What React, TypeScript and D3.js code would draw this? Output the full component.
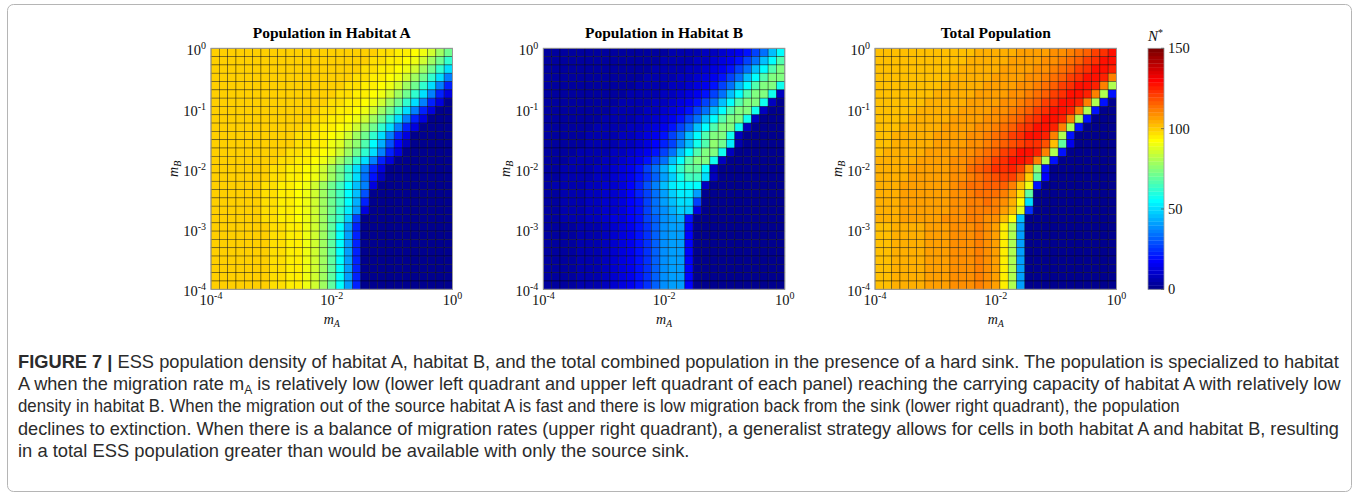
import React, { useLayoutEffect, useRef, useState } from "react";
import * as d3 from "d3";

// pcolor vertices: 30 log-spaced points in each direction -> 29 x 29 faceted cells
const gridPoints: number[] = d3.range(30).map((i) => Math.pow(10, -4 + (4 * i) / 29));

const panelTitles = ["Population in Habitat A", "Population in Habitat B", "Total Population"];
const xTickExponents = [-4, -2, 0];
const yTickExponents = [0, -1, -2, -3, -4];
const colorbarTicks = [0, 50, 100, 150];
const colorMax = 150;

// Rows ordered from m_B = 1 (top) down to m_B = 1e-4 (bottom); columns m_A = 1e-4 .. 1
const popA: number[][] = [
  [100,100,100,100,100,100,100,100,100,100,100,100,100,100,100,100,100,100,100,99,98,97,96,95,93,90,85,79,71],
  [100,100,100,100,100,100,100,100,100,100,100,100,100,100,100,100,100,100,99,98,97,96,95,93,90,85,79,71,62],
  [100,100,100,100,100,100,100,100,100,100,100,100,100,100,100,100,100,99,98,97,96,95,93,90,85,79,71,62,51],
  [100,100,100,100,100,100,100,100,100,100,100,100,100,100,100,100,99,98,97,96,95,93,90,85,79,71,62,51,37],
  [100,100,100,100,100,100,100,100,100,100,100,100,100,100,100,99,98,97,96,95,93,90,85,79,71,62,51,37,22],
  [100,100,100,100,100,100,100,100,100,100,100,100,100,100,99,98,97,96,95,93,90,85,79,71,62,51,37,22,12],
  [100,100,100,100,100,100,100,100,100,100,100,100,100,99,98,97,96,95,93,90,85,79,71,62,51,37,22,12,1],
  [100,100,100,100,100,100,100,100,100,100,100,100,99,98,97,96,95,93,90,85,79,71,62,51,37,22,12,1,1],
  [100,100,100,100,100,100,100,100,100,100,100,99,98,97,96,95,93,90,85,79,71,62,51,37,22,12,1,1,1],
  [100,100,100,100,100,100,100,100,100,100,99,98,97,96,95,93,90,85,79,71,62,51,37,22,12,1,1,1,1],
  [100,100,100,100,100,100,100,100,100,99,98,97,96,95,93,90,85,79,71,62,51,37,22,12,1,1,1,1,1],
  [100,100,100,100,100,100,100,100,100,99,98,97,95,94,91,88,82,75,66,56,44,30,17,8,1,1,1,1,1],
  [100,100,100,100,100,100,100,100,99,98,97,96,95,93,90,85,79,71,62,51,37,22,12,1,1,1,1,1,1],
  [100,100,100,100,100,100,100,99,98,97,96,95,93,90,85,79,71,62,51,37,22,12,1,1,1,1,1,1,1],
  [100,100,100,100,100,100,99,98,97,96,95,93,90,85,79,71,62,51,37,22,12,1,1,1,1,1,1,1,1],
  [100,100,100,100,100,100,99,98,97,96,95,93,90,85,79,71,62,50,35,20,9,1,1,1,1,1,1,1,1],
  [100,100,100,100,100,99,98,97,96,95,93,90,85,79,72,64,55,46,36,12,1,1,1,1,1,1,1,1,1],
  [100,100,100,100,100,99,98,97,96,95,93,90,85,79,72,64,55,45,30,1,1,1,1,1,1,1,1,1,1],
  [100,100,100,100,100,99,98,97,96,95,93,90,85,79,72,64,55,43,22,1,1,1,1,1,1,1,1,1,1],
  [100,100,100,100,100,99,98,97,96,95,93,90,85,79,72,63,53,40,12,1,1,1,1,1,1,1,1,1,1],
  [100,100,100,100,100,99,98,97,96,95,93,90,85,78,70,61,49,26,1,1,1,1,1,1,1,1,1,1,1],
  [100,100,100,100,100,99,99,98,97,96,94,91,86,78,68,55,40,22,1,1,1,1,1,1,1,1,1,1,1],
  [100,100,100,100,100,99,99,98,97,96,94,91,86,78,68,55,40,22,1,1,1,1,1,1,1,1,1,1,1],
  [100,100,100,100,100,99,99,98,97,96,94,91,86,78,68,55,40,22,1,1,1,1,1,1,1,1,1,1,1],
  [100,100,100,100,100,99,99,98,97,96,94,91,86,78,68,55,40,22,1,1,1,1,1,1,1,1,1,1,1],
  [100,100,100,100,100,99,99,98,97,96,94,91,86,78,68,55,40,22,1,1,1,1,1,1,1,1,1,1,1],
  [100,100,100,100,100,99,99,98,97,96,94,91,86,78,68,55,40,22,1,1,1,1,1,1,1,1,1,1,1],
  [100,100,100,100,100,99,99,98,97,96,94,91,86,78,68,55,40,22,1,1,1,1,1,1,1,1,1,1,1],
  [100,100,100,100,100,99,99,98,97,96,94,91,86,78,68,55,40,22,1,1,1,1,1,1,1,1,1,1,1],
];

const popB: number[][] = [
  [3,3,3,3,3,3,3,3,3,3,3,3,4,4,4,5,5,6,7,8,9,11,13,16,21,27,35,45,56],
  [3,3,3,3,3,3,3,3,3,3,3,4,4,4,5,5,6,7,8,9,11,13,16,21,27,35,45,56,66],
  [3,3,3,3,3,3,3,3,3,3,4,4,4,5,5,6,7,8,9,11,13,16,21,27,35,45,56,66,74],
  [3,3,3,3,3,3,3,3,3,4,4,4,5,5,6,7,8,9,11,13,16,21,27,35,45,56,66,74,74],
  [3,3,3,3,3,3,3,3,4,4,4,5,5,6,7,8,9,11,13,16,21,27,35,45,56,66,74,74,58],
  [3,3,3,3,3,3,3,4,4,4,5,5,6,7,8,9,11,13,16,21,27,35,45,56,66,74,74,58,8],
  [3,3,3,3,3,3,4,4,4,5,5,6,7,8,9,11,13,16,21,27,35,45,56,66,74,74,58,8,1],
  [3,3,3,3,3,4,4,4,5,5,6,7,8,9,11,13,16,21,27,35,45,56,66,74,74,58,8,1,1],
  [3,3,3,3,4,4,4,5,5,6,7,8,9,11,13,16,21,27,35,45,56,66,74,74,58,8,1,1,1],
  [3,3,3,4,4,4,5,5,6,7,8,9,11,13,16,21,27,35,45,56,66,74,74,58,8,1,1,1,1],
  [3,3,4,4,4,5,5,6,7,8,9,11,13,16,21,27,35,45,56,66,74,74,58,8,1,1,1,1,1],
  [3,3,4,4,4,5,5,6,7,8,9,11,13,17,22,28,36,46,57,67,75,72,52,7,1,1,1,1,1],
  [3,4,4,4,5,5,6,7,8,9,11,13,16,21,27,35,45,56,66,74,74,58,8,1,1,1,1,1,1],
  [4,4,4,5,5,6,7,8,9,11,13,16,21,27,35,45,56,66,74,74,58,8,1,1,1,1,1,1,1],
  [4,4,5,5,6,7,8,9,10,12,15,20,26,33,43,53,63,70,70,55,8,1,1,1,1,1,1,1,1],
  [4,4,5,5,6,7,8,9,10,12,15,19,24,31,40,49,58,64,64,50,8,1,1,1,1,1,1,1,1],
  [4,5,5,6,7,8,9,10,11,14,18,23,29,37,45,52,56,56,54,8,1,1,1,1,1,1,1,1,1],
  [4,4,5,6,7,8,9,10,11,13,17,22,28,35,42,48,52,53,40,1,1,1,1,1,1,1,1,1,1],
  [4,4,5,6,7,8,9,10,11,13,17,21,27,34,40,46,50,50,28,1,1,1,1,1,1,1,1,1,1],
  [4,4,5,6,7,8,9,10,11,13,17,21,26,33,39,44,48,48,13,1,1,1,1,1,1,1,1,1,1],
  [4,4,5,6,7,8,9,10,12,14,17,21,26,32,38,42,44,20,1,1,1,1,1,1,1,1,1,1,1],
  [3,3,4,4,5,6,7,8,10,12,15,19,25,32,38,40,40,18,1,1,1,1,1,1,1,1,1,1,1],
  [3,3,4,4,5,6,7,8,10,12,15,19,25,32,38,40,40,18,1,1,1,1,1,1,1,1,1,1,1],
  [3,3,4,4,5,6,7,8,10,12,15,19,25,32,38,40,40,18,1,1,1,1,1,1,1,1,1,1,1],
  [3,3,4,4,5,6,7,8,10,12,15,19,25,32,38,40,40,18,1,1,1,1,1,1,1,1,1,1,1],
  [3,3,4,4,5,6,7,8,10,12,15,19,25,32,38,40,40,18,1,1,1,1,1,1,1,1,1,1,1],
  [3,3,4,4,5,6,7,8,10,12,15,19,25,32,38,40,40,18,1,1,1,1,1,1,1,1,1,1,1],
  [3,3,4,4,5,6,7,8,10,12,15,19,25,32,38,40,40,18,1,1,1,1,1,1,1,1,1,1,1],
  [3,3,4,4,5,6,7,8,10,12,15,19,25,32,38,40,40,18,1,1,1,1,1,1,1,1,1,1,1],
];

// total population = habitat A + habitat B
const popTotal: number[][] = popA.map((row, i) => row.map((v, j) => v + popB[i][j]));

const captionLabel = "FIGURE 7 | ";
const captionLines = [
  "ESS population density of habitat A, habitat B, and the total combined population in the presence of a hard sink. The population is specialized to habitat",
  "A when the migration rate m|A| is relatively low (lower left quadrant and upper left quadrant of each panel) reaching the carrying capacity of habitat A with relatively low",
  "density in habitat B. When the migration out of the source habitat A is fast and there is low migration back from the sink (lower right quadrant), the population",
  "declines to extinction. When there is a balance of migration rates (upper right quadrant), a generalist strategy allows for cells in both habitat A and habitat B, resulting",
  "in a total ESS population greater than would be available with only the source sink.",
];
const captionWidths = [1322, 1323, 1163, 1322, 672];

// ---- layout ----
const PW = 241.5;
const PH = 241;
const PY = 48.3;
const panelLefts = [211, 543.3, 875];
const CB = { x: 1148, w: 16 };
const serif = "'Liberation Serif', 'Times New Roman', serif";
const sans = "'Liberation Sans', Arial, Helvetica, sans-serif";

function jet64(k: number): string {
  const i = k + 1;
  let r = 0, g = 0, b = 0;
  if (i <= 8) b = 0.5 + i * 0.0625;
  else if (i <= 24) b = 1;
  else if (i <= 40) b = 1 - (i - 24) * 0.0625;
  if (i > 8 && i <= 24) g = (i - 8) * 0.0625;
  else if (i > 24 && i <= 40) g = 1;
  else if (i > 40 && i <= 56) g = 1 - (i - 40) * 0.0625;
  if (i > 24 && i <= 40) r = (i - 24) * 0.0625;
  else if (i > 40 && i <= 56) r = 1;
  else if (i > 56) r = 1 - (i - 56) * 0.0625;
  return d3.rgb(r * 255, g * 255, b * 255).formatHex();
}
const colorOf = (v: number) => jet64(Math.max(0, Math.min(63, Math.floor((v / colorMax) * 64))));

function Pow10({ x, y, e, anchor }: { x: number; y: number; e: number; anchor: string }) {
  return (
    <text x={x} y={y} textAnchor={anchor} fontFamily={serif} fontSize={14.5} fill="#111">
      <tspan>10</tspan>
      <tspan dy={-6} fontSize={10}>{String(e)}</tspan>
    </text>
  );
}

function Panel({ left, title, data }: { left: number; title: string; data: number[][] }) {
  const xs = d3.scaleLog().domain([1e-4, 1]).range([left, left + PW]);
  const ys = d3.scaleLog().domain([1e-4, 1]).range([PY + PH, PY]);
  const nRows = data.length;
  return (
    <g>
      <text x={left + PW / 2} y={38} textAnchor="middle" fontFamily={serif} fontWeight="bold" fontSize={15.5} fill="#000">
        {title}
      </text>
      {data.map((row, t) =>
        row.map((v, c) => {
          const r = nRows - 1 - t;
          const x0 = xs(gridPoints[c]);
          const x1 = xs(gridPoints[c + 1]);
          const y0 = ys(gridPoints[r + 1]);
          const y1 = ys(gridPoints[r]);
          return (
            <rect key={`${t}-${c}`} x={x0} y={y0} width={x1 - x0} height={y1 - y0} fill={colorOf(v)}
              stroke="#000" strokeOpacity={0.6} strokeWidth={0.6} />
          );
        })
      )}
      <rect x={left} y={PY} width={PW} height={PH} fill="none" stroke="#999" strokeWidth={1} />
      {yTickExponents.map((e) => (
        <Pow10 key={`y${e}`} x={left - 5} y={ys(Math.pow(10, e)) + 7} e={e} anchor="end" />
      ))}
      {xTickExponents.map((e) => (
        <Pow10 key={`x${e}`} x={xs(Math.pow(10, e))} y={PY + PH + 16} e={e} anchor="middle" />
      ))}
      <text x={left + PW / 2} y={PY + PH + 35} textAnchor="middle" fontFamily={serif} fontStyle="italic" fontSize={14} fill="#111">
        <tspan>m</tspan>
        <tspan dy={3} fontSize={10}>A</tspan>
      </text>
      <text transform={`translate(${left - 33},${PY + PH / 2}) rotate(-90)`} textAnchor="middle" fontFamily={serif}
        fontStyle="italic" fontSize={14} fill="#111">
        <tspan>m</tspan>
        <tspan dy={3} fontSize={10}>B</tspan>
      </text>
    </g>
  );
}

function Colorbar() {
  const cs = d3.scaleLinear().domain([0, colorMax]).range([PY + PH, PY]);
  const bands = d3.range(64);
  const bh = PH / 64;
  return (
    <g>
      {bands.map((k) => (
        <rect key={k} x={CB.x} y={PY + PH - (k + 1) * bh} width={CB.w} height={bh + 0.3} fill={jet64(k)} />
      ))}
      <rect x={CB.x} y={PY} width={CB.w} height={PH} fill="none" stroke="#999" strokeWidth={0.8} />
      {colorbarTicks.map((v) => (
        <g key={v}>
          <line x1={CB.x + CB.w - 3} x2={CB.x + CB.w} y1={cs(v)} y2={cs(v)} stroke="#555" strokeWidth={0.8} />
          <text x={CB.x + CB.w + 4} y={cs(v) + 5} fontFamily={serif} fontSize={14.5} fill="#111">{v}</text>
        </g>
      ))}
      <text x={CB.x} y={41} fontFamily={serif} fontStyle="italic" fontSize={15} fill="#111">
        <tspan>N</tspan>
        <tspan dy={-5} fontSize={10} fontStyle="normal">*</tspan>
      </text>
    </g>
  );
}

function Caption() {
  const refs = useRef<(SVGTextElement | null)[]>([]);
  const [scales, setScales] = useState<number[] | null>(null);
  useLayoutEffect(() => {
    const nat = refs.current.map((el) => (el ? el.getComputedTextLength() : 0));
    if (nat.some((n) => !n)) return;
    setScales(nat.map((n, i) => captionWidths[i] / n));
  }, []);
  return (
    <g>
      {captionLines.map((line, i) => {
        const parts = line.split("|");
        const y = 368 + i * 22.2;
        return (
          <text key={i} ref={(el) => { refs.current[i] = el; }}
            transform={`translate(18,${y}) scale(${scales ? scales[i] : 1},1)`}
            fontFamily={sans} fontSize={18} fill="#2b2b2b">
            {i === 0 ? <tspan fontWeight="bold">{captionLabel}</tspan> : null}
            {parts.length === 3 ? (
              <>
                <tspan>{parts[0]}</tspan>
                <tspan fontSize={12} dy={4}>{parts[1]}</tspan>
                <tspan dy={-4}>{parts[2]}</tspan>
              </>
            ) : (
              <tspan>{line}</tspan>
            )}
          </text>
        );
      })}
    </g>
  );
}

export default function App() {
  const panels = [popA, popB, popTotal];
  return (
    <svg width={1358} height={495} style={{ position: "absolute", left: 0, top: 0, background: "#fff" }}>
      <rect x={0} y={0} width={1358} height={495} fill="#fff" />
      <rect x={7.5} y={4.5} width={1344} height={487} rx={6} fill="none" stroke="#b5b5b5" strokeWidth={1} />
      {panels.map((data, i) => (
        <Panel key={i} left={panelLefts[i]} title={panelTitles[i]} data={data} />
      ))}
      <Colorbar />
      <Caption />
    </svg>
  );
}
